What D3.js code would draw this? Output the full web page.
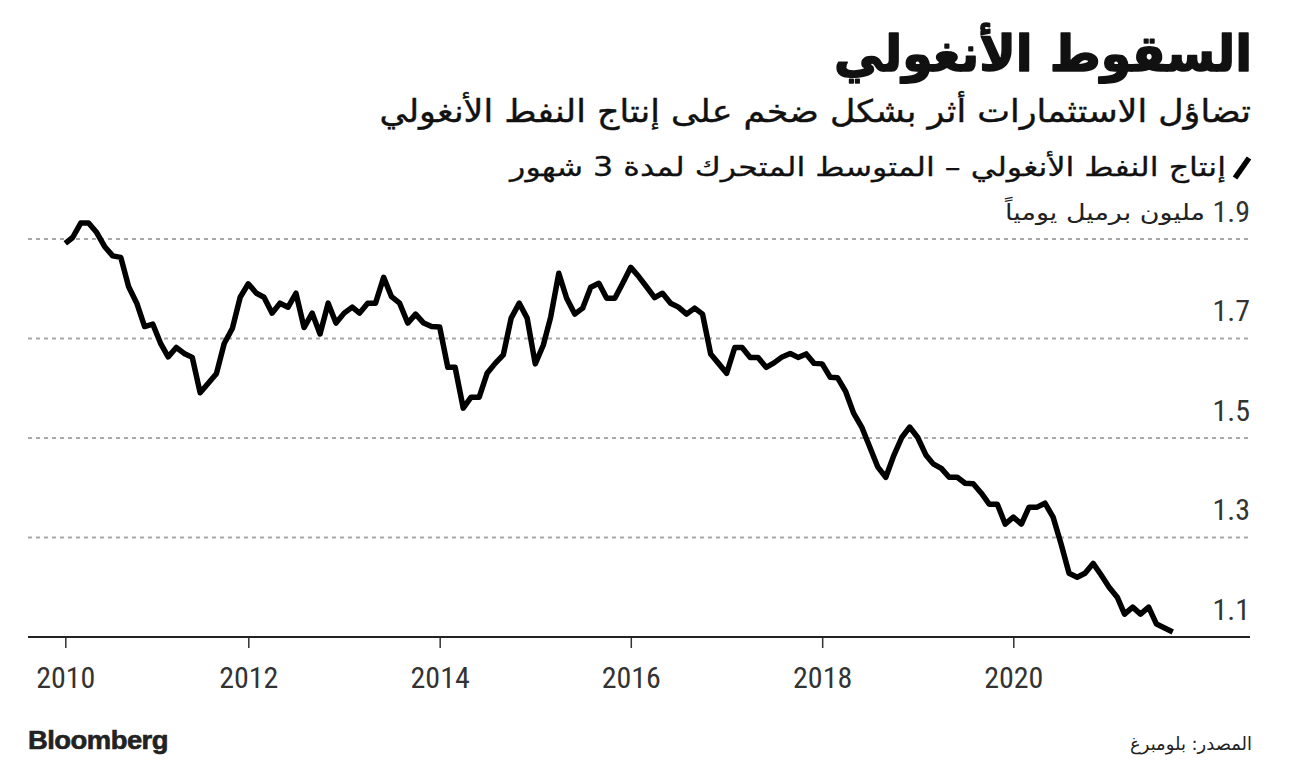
<!DOCTYPE html>
<html>
<head>
<meta charset="utf-8">
<script src="https://cdn.jsdelivr.net/npm/d3@7"></script>
<style>
  html, body { margin: 0; padding: 0; background: #fff; }
  svg { display: block; }
</style>
</head>
<body>
<svg id="chart" width="1296" height="768"></svg>
<script>
// ---------- Data ----------
const titleText = "السقوط الأنغولي";
const subtitleText = "تضاؤل الاستثمارات أثر بشكل ضخم على إنتاج النفط الأنغولي";
const legendText = "إنتاج النفط الأنغولي – المتوسط المتحرك لمدة 3 شهور";
const unitText = "مليون برميل يومياً";
const sourceText = "المصدر: بلومبرغ";
const brandText = "Bloomberg";

// monthly observations, Feb 2010 .. Sep 2021 (3-month moving average, million barrels/day)
const months = d3.timeMonth.range(new Date(2010, 1, 1), new Date(2021, 9, 1));
const production = [
  1.891, 1.903, 1.932, 1.932, 1.913, 1.885, 1.866, 1.863, 1.804, 1.771, 1.724,          // 2010 Feb-Dec
  1.729, 1.689, 1.663, 1.682, 1.670, 1.662, 1.591, 1.610, 1.629, 1.690, 1.720, 1.783,   // 2011
  1.810, 1.791, 1.783, 1.751, 1.771, 1.763, 1.791, 1.722, 1.751, 1.709, 1.771, 1.731,   // 2012
  1.751, 1.763, 1.751, 1.771, 1.771, 1.823, 1.784, 1.771, 1.731, 1.749, 1.731, 1.724,   // 2013
  1.723, 1.642, 1.642, 1.560, 1.582, 1.582, 1.630, 1.650, 1.667, 1.741, 1.771, 1.741,   // 2014
  1.649, 1.687, 1.743, 1.831, 1.781, 1.749, 1.761, 1.803, 1.811, 1.781, 1.781, 1.811,   // 2015
  1.843, 1.824, 1.804, 1.782, 1.791, 1.771, 1.763, 1.749, 1.761, 1.749, 1.669, 1.650,   // 2016
  1.630, 1.682, 1.682, 1.662, 1.662, 1.642, 1.651, 1.663, 1.670, 1.662, 1.669, 1.650,   // 2017
  1.649, 1.622, 1.621, 1.593, 1.550, 1.522, 1.483, 1.442, 1.421, 1.464, 1.501, 1.522,   // 2018
  1.501, 1.466, 1.448, 1.439, 1.421, 1.421, 1.409, 1.408, 1.389, 1.367, 1.367, 1.327,   // 2019
  1.341, 1.327, 1.361, 1.361, 1.369, 1.341, 1.288, 1.228, 1.220, 1.228, 1.248, 1.225,   // 2020
  1.200, 1.180, 1.146, 1.160, 1.146, 1.160, 1.126, 1.118, 1.110                         // 2021 Jan-Sep
];
const yTicks = [1.1, 1.3, 1.5, 1.7, 1.9];
const yGrid = [1.3, 1.5, 1.7, 1.9];
const xTickYears = [2010, 2012, 2014, 2016, 2018, 2020];

// ---------- Layout ----------
const svg = d3.select("#chart");
const left = 28, right = 1250;
const arabicFont = "'DejaVu Sans', 'Noto Sans', sans-serif";
const numFont = "'Liberation Sans Narrow', 'Roboto Condensed', 'Liberation Sans', sans-serif";

const x = d3.scaleTime()
  .domain([new Date(2012, 0, 1), new Date(2020, 0, 1)])
  .range([248.3, 1013.3]);
const y = d3.scaleLinear().domain([1.1, 1.9]).range([637, 239]);

const data = months.map((d, i) => ({ date: d, value: production[i] }));

// helper: draw right-aligned text and squeeze it to a target width
function fitText(g, str, rightX, baseY, size, weight, family, targetW, fill, strokeW) {
  const grp = g.append("g").attr("transform", `translate(${rightX},${baseY})`);
  const t = grp.append("text")
    .attr("x", 0).attr("y", 0)
    .attr("text-anchor", "end")
    .attr("font-family", family)
    .attr("font-size", size)
    .attr("font-weight", weight)
    .attr("fill", fill)
    .text(str);
  if (strokeW) t.attr("stroke", fill).attr("stroke-width", strokeW).attr("stroke-linejoin", "round");
  const w = t.node().getComputedTextLength();
  if (targetW && w > 0) {
    grp.attr("transform", `translate(${rightX},${baseY}) scale(${targetW / w},1)`);
  }
  return t;
}

// ---------- Titles ----------
fitText(svg, titleText, 1252, 71, 50, "bold", arabicFont, 418, "#111", 1.6);
fitText(svg, subtitleText, 1251, 122, 31, "normal", arabicFont, 872, "#111", 0.4);

// legend icon + text
svg.append("line")
  .attr("x1", 1235).attr("y1", 178).attr("x2", 1249).attr("y2", 158)
  .attr("stroke", "#000").attr("stroke-width", 5.5).attr("stroke-linecap", "butt");
fitText(svg, legendText, 1226, 176, 26, "normal", arabicFont, 716, "#111", 0.3);

// ---------- Gridlines ----------
svg.append("g").selectAll("line").data(yGrid).join("line")
  .attr("x1", left).attr("x2", right)
  .attr("y1", d => y(d)).attr("y2", d => y(d))
  .attr("stroke", "#a8a8a8").attr("stroke-width", 2)
  .attr("stroke-dasharray", "4,4");

// y tick labels (above their gridlines)
svg.append("g").selectAll("text").data(yTicks).join("text")
  .attr("x", right).attr("y", d => y(d) - 17.5)
  .attr("text-anchor", "end")
  .attr("font-family", numFont).attr("font-size", 30)
  .attr("fill", "#333")
  .text(d => d3.format(".1f")(d));

// unit label next to top tick
fitText(svg, unitText, 1205, y(1.9) - 19.5, 22, "normal", arabicFont, 200, "#222");

// ---------- X axis ----------
const tickDates = xTickYears.map(yr => yr === 2010 ? months[0] : new Date(yr, 0, 1));
const xAxis = d3.axisBottom(x)
  .tickValues(tickDates)
  .tickFormat(d => d3.timeFormat("%Y")(d))
  .tickSize(11).tickSizeOuter(0).tickPadding(19);
const gx = svg.append("g").attr("transform", `translate(0,${y(1.1)})`).call(xAxis);
gx.select(".domain").remove();
gx.selectAll(".tick line").attr("stroke", "#333").attr("stroke-width", 1.5);
gx.selectAll(".tick text")
  .attr("font-family", numFont).attr("font-size", 30).attr("fill", "#333");

svg.append("line")
  .attr("x1", left).attr("x2", right)
  .attr("y1", y(1.1)).attr("y2", y(1.1))
  .attr("stroke", "#222").attr("stroke-width", 2);

// ---------- Line ----------
const line = d3.line().x(d => x(d.date)).y(d => y(d.value));
svg.append("path").datum(data)
  .attr("d", line)
  .attr("fill", "none")
  .attr("stroke", "#000")
  .attr("stroke-width", 5.5)
  .attr("stroke-linejoin", "round")
  .attr("stroke-linecap", "butt");

// ---------- Footer ----------
const brand = svg.append("g").attr("transform", "translate(28,749)");
const bt = brand.append("text")
  .attr("font-family", "'Liberation Sans', Arial, sans-serif")
  .attr("font-weight", "bold").attr("font-size", 26)
  .attr("letter-spacing", -0.5)
  .attr("fill", "#222").attr("stroke", "#222").attr("stroke-width", 0.6)
  .text(brandText);
const bw = bt.node().getComputedTextLength();
brand.attr("transform", `translate(28,749) scale(${140 / bw},1)`);

fitText(svg, sourceText, 1252, 750, 18, "normal", arabicFont, 122, "#222");
</script>
</body>
</html>
